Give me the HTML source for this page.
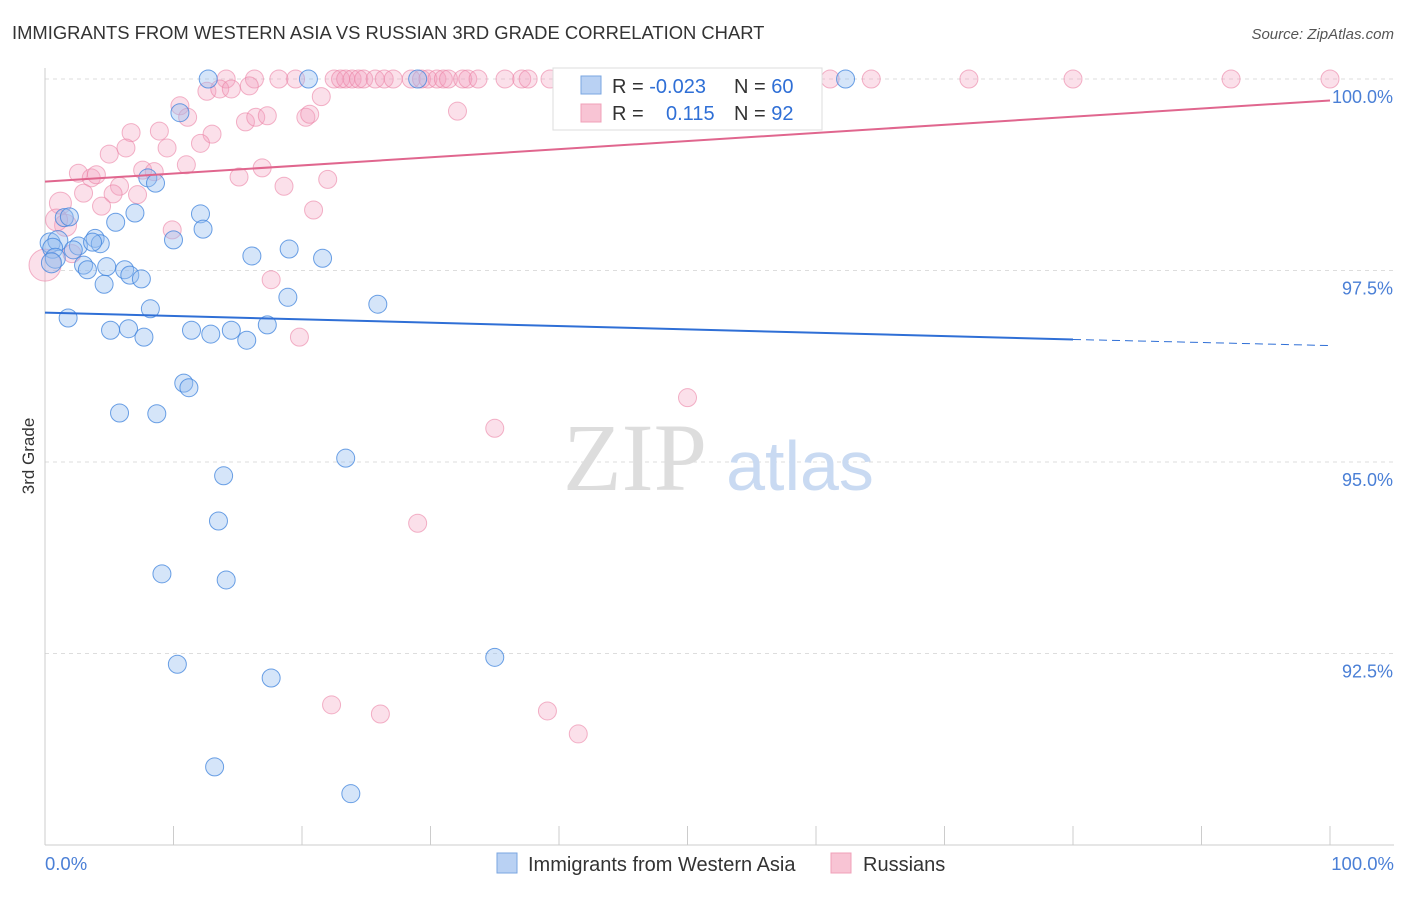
<!DOCTYPE html>
<html><head><meta charset="utf-8"><style>
body{margin:0;background:#fff;font-family:"Liberation Sans",sans-serif;}
</style></head><body>
<svg width="1406" height="892" xmlns="http://www.w3.org/2000/svg">
<text x="12" y="39" font-size="18.4" fill="#333">IMMIGRANTS FROM WESTERN ASIA VS RUSSIAN 3RD GRADE CORRELATION CHART</text>
<text x="1394" y="39" font-size="15" fill="#555" font-style="italic" text-anchor="end">Source: ZipAtlas.com</text>
<g id="grid"></g>
<line x1="45" y1="68" x2="45" y2="845" stroke="#ccc"/>
<line x1="45" y1="845" x2="1394" y2="845" stroke="#ccc"/>
<g id="ticks"></g>
<text x="34" y="456" font-size="17" fill="#333" text-anchor="middle" transform="rotate(-90 34 456)">3rd Grade</text>
<text x="45" y="870" font-size="18.5" fill="#4a7fd6">0.0%</text>
<text x="1394" y="870" font-size="18.5" fill="#4a7fd6" text-anchor="end">100.0%</text>
<g><text x="635" y="490" font-size="96" fill="#ddd" font-family="Liberation Serif,serif" text-anchor="middle">ZIP</text><text x="800" y="490" font-size="70" fill="#c9daf2" text-anchor="middle">atlas</text></g>
<g id="pts"></g>
<g id="lines"></g>
<g>
<rect x="553" y="68" width="269" height="62" fill="#fff" stroke="#ddd"/>
<rect x="581" y="76" width="20" height="18" fill="#b9d1f3" stroke="#7aa6e0"/>
<rect x="581" y="104" width="20" height="18" fill="#f8c4d4" stroke="#f0a0b8"/>
<text x="612" y="93" font-size="20" fill="#333">R = <tspan fill="#2f6fd6">-0.023</tspan></text>
<text x="734" y="93" font-size="20" fill="#333">N = <tspan fill="#2f6fd6">60</tspan></text>
<text x="612" y="120" font-size="20" fill="#333">R = </text><text x="666" y="120" font-size="20" fill="#2f6fd6">0.115</text>
<text x="734" y="120" font-size="20" fill="#333">N = <tspan fill="#2f6fd6">92</tspan></text>
</g>
<g>
<rect x="497" y="853" width="20" height="20" fill="#b9d1f3" stroke="#7aa6e0"/>
<text x="528" y="871" font-size="20" fill="#333">Immigrants from Western Asia</text>
<rect x="831" y="853" width="20" height="20" fill="#f8c4d4" stroke="#f0a0b8"/>
<text x="863" y="871" font-size="20" fill="#333">Russians</text>
</g>
</svg>
<script>
const yTicks=[100,97.5,95,92.5];
const yTickLabels=["100.0%","97.5%","95.0%","92.5%"];
const xTicks=[0,10,20,30,40,50,60,70,80,90,100];
const blueX=[12.7,20.5,29.0,62.3,10.5,8.0,8.6,1.5,1.9,5.5,7.0,12.1,12.3,10.0,0.4,1.0,0.6,2.6,3.9,4.3,3.7,2.2,0.8,0.5,3.0,3.3,4.8,6.2,6.6,7.5,4.6,16.1,19.0,21.6,18.9,25.9,8.2,1.8,5.1,6.5,7.7,11.4,12.9,14.5,15.7,17.3,10.8,11.2,5.8,8.7,23.4,13.9,13.5,9.1,14.1,10.3,35.0,17.6,13.2,23.8];
const blueY=[100,100,100,100,99.56,98.71,98.64,98.19,98.2,98.13,98.25,98.24,98.04,97.9,97.86,97.89,97.79,97.82,97.92,97.85,97.87,97.77,97.66,97.6,97.57,97.51,97.55,97.51,97.44,97.39,97.32,97.69,97.78,97.66,97.15,97.06,97.0,96.88,96.72,96.74,96.63,96.72,96.67,96.72,96.59,96.79,96.03,95.97,95.64,95.63,95.05,94.82,94.23,93.54,93.46,92.36,92.45,92.18,91.02,90.67];
const pinkX=[18.2,19.5,14.1,16.3,22.5,23.0,23.4,23.9,24.4,24.8,25.7,26.4,27.1,28.5,29.3,29.8,30.5,31.0,31.4,32.5,32.9,33.7,35.8,37.1,37.6,39.3,41.6,47.1,51.7,59.4,61.1,64.3,71.9,80.0,92.3,100,12.6,13.6,14.5,15.9,21.5,10.5,11.1,20.3,20.6,32.1,15.6,16.4,17.3,6.7,8.9,13.0,12.1,6.3,9.5,5.0,11.0,7.6,8.5,2.6,3.6,4.0,16.9,15.1,22.0,18.6,5.8,3.0,5.3,7.2,4.4,1.2,20.9,1.6,9.9,0.9,0,2.1,17.6,19.8,50.0,35.0,29.0,22.3,26.1,39.1,41.5];
const pinkY=[100,100,100,100,100,100,100,100,100,100,100,100,100,100,100,100,100,100,100,100,100,100,100,100,100,100,100,100,100,100,100,100,100,100,100,100,99.84,99.87,99.87,99.91,99.77,99.65,99.5,99.5,99.54,99.58,99.44,99.5,99.52,99.3,99.32,99.28,99.16,99.1,99.1,99.02,98.88,98.81,98.79,98.77,98.71,98.75,98.84,98.72,98.69,98.6,98.6,98.51,98.5,98.49,98.34,98.38,98.29,98.09,98.03,98.16,97.57,97.72,97.38,96.63,95.84,95.44,94.2,91.83,91.71,91.75,91.45];
const blueTrend=[96.95,96.6];
const blueTrendEnd=96.52;
const pinkTrend=[98.66,99.72];
const NS="http://www.w3.org/2000/svg";
const sx=v=>45+v*12.85;
const sy=v=>79+(100-v)*76.6;
function mk(tag,attrs,parent){const e=document.createElementNS(NS,tag);for(const k in attrs)e.setAttribute(k,attrs[k]);parent.appendChild(e);return e;}
const grid=document.getElementById('grid');
yTicks.forEach((t,i)=>{
 const l=mk('line',{x1:45,x2:1394,y1:sy(t),y2:sy(t),stroke:'#ddd','stroke-dasharray':'4 4'},grid);
 
 
 const tx=mk('text',{x:1393,y:sy(t)+24,'font-size':18,fill:'#4a7fd6','text-anchor':'end'},grid);
 tx.textContent=yTickLabels[i];
 
 
});
const ticks=document.getElementById('ticks');
xTicks.forEach(t=>{
 const l=mk('line',{x1:sx(t),x2:sx(t),y1:826,y2:845,stroke:'#ccc'},ticks);
 
 
});
const pts=document.getElementById('pts');
pinkX.forEach((x,i)=>{
 const r=(x<2&&pinkY[i]<98.5)?(x<0.5?16:11):9;
 const c=mk('circle',{cx:sx(x),cy:sy(pinkY[i]),r:r,fill:'rgba(244,160,190,0.32)',stroke:'rgba(235,130,165,0.6)','stroke-width':1},pts);
 
 
});
blueX.forEach((x,i)=>{
 const r=x<1.2?10:9;
 const c=mk('circle',{cx:sx(x),cy:sy(blueY[i]),r:r,fill:'rgba(150,190,240,0.4)',stroke:'rgba(60,130,220,0.75)','stroke-width':1},pts);
 
 
});
const lines=document.getElementById('lines');
const bl=mk('line',{x1:sx(0),y1:sy(blueTrend[0]),x2:sx(80),y2:sy(blueTrend[1]),stroke:'#2f6fd6','stroke-width':2},lines);


const bd=mk('line',{x1:sx(80),y1:sy(blueTrend[1]),x2:sx(100),y2:sy(blueTrendEnd),stroke:'#2f6fd6','stroke-width':1,'stroke-dasharray':'8 5'},lines);


const pl=mk('line',{x1:sx(0),y1:sy(pinkTrend[0]),x2:sx(100),y2:sy(pinkTrend[1]),stroke:'#e0668e','stroke-width':2},lines);


</script>
</body></html>
